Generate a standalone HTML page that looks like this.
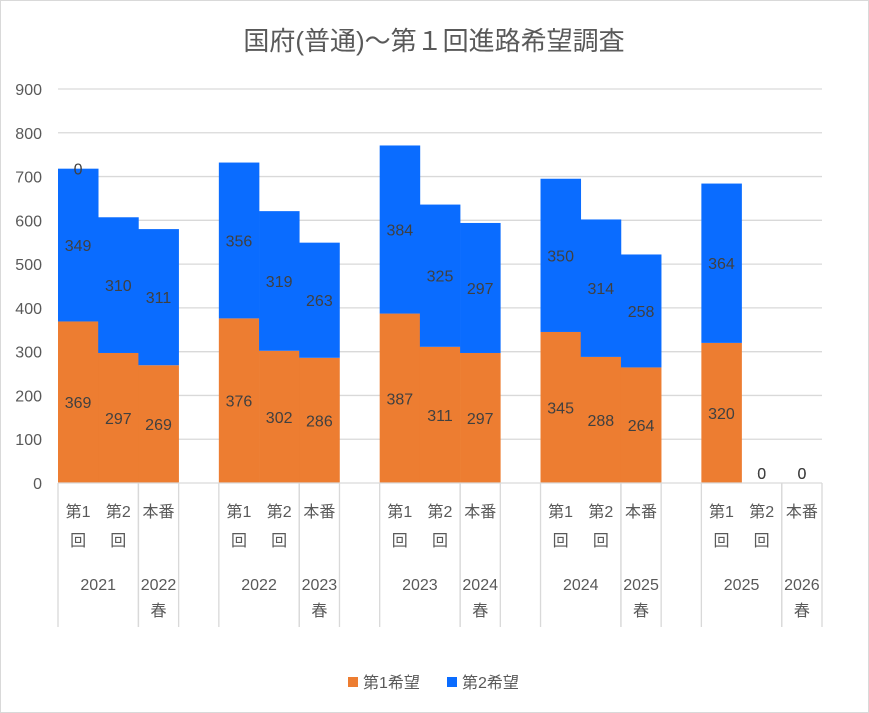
<!DOCTYPE html>
<html><head><meta charset="utf-8"><style>
body{margin:0;background:#fff;}
svg{display:block;font-family:"Liberation Sans","Noto Sans CJK JP",sans-serif;}
</style></head><body>
<svg id="c" width="869" height="713">
<rect x="0.5" y="0.5" width="868" height="712" fill="#fff" stroke="#d9d9d9"/>
<text x="434" y="50" text-anchor="middle" font-size="26" fill="#595959">国府(普通)～第１回進路希望調査</text>
<g id="grid"></g><g id="bars"></g><g id="axis"></g>
<g>
<rect x="348" y="677" width="10" height="10" fill="#ed7d31"/>
<text x="363" y="688" font-size="16" fill="#595959">第1希望</text>
<rect x="447" y="677" width="10" height="10" fill="#0a6cff"/>
<text x="462" y="688" font-size="16" fill="#595959">第2希望</text>
</g>
</svg>
<script>
const sub1=['第1','第2','本番','','第1','第2','本番','','第1','第2','本番','','第1','第2','本番','','第1','第2','本番'];
const sub2=['回','回','','','回','回','','','回','回','','','回','回','','','回','回',''];
const first=[369,297,269,null,376,302,286,null,387,311,297,null,345,288,264,null,320,0,0];
const second=[349,310,311,null,356,319,263,null,384,325,297,null,350,314,258,null,364,0,0];
const groups=[{l:'2021',s:0,n:2},{l:'2022春',s:2,n:1},{l:'2022',s:4,n:2},{l:'2023春',s:6,n:1},{l:'2023',s:8,n:2},{l:'2024春',s:10,n:1},{l:'2024',s:12,n:2},{l:'2025春',s:14,n:1},{l:'2025',s:16,n:2},{l:'2026春',s:18,n:1}];
const ticks=[0,100,200,300,400,500,600,700,800,900];
const NS='http://www.w3.org/2000/svg';
const X0=58,X1=822,Y0=483,Y9=89,sw=(X1-X0)/first.length;
const y=v=>Y0-(v/900)*(Y0-Y9);
const x=i=>X0+i*sw;
function mk(t,a,p,txt){const e=document.createElementNS(NS,t);for(const k in a)e.setAttribute(k,a[k]);if(txt!==undefined)e.textContent=txt;p.appendChild(e);return e;}
const G=document.getElementById('grid'),B=document.getElementById('bars'),A=document.getElementById('axis');
ticks.forEach(t=>{
 if(t>0){const l=mk('line',{x1:X0,x2:X1,y1:y(t),y2:y(t),stroke:'#d9d9d9','stroke-width':1.3},G);
 
 }
 const tx=mk('text',{x:42,y:y(t)+6,'text-anchor':'end','font-size':16,fill:'#595959'},G,String(t));
 
 
});
first.forEach((v,i)=>{
 if(v===null)return;
 const s=second[i];
 if(v>0){const r=mk('rect',{x:x(i),y:y(v),width:sw+0.3,height:Y0-y(v),fill:'#ed7d31'},B);
 
 }
 if(s>0){const r=mk('rect',{x:x(i),y:y(v+s),width:sw+0.3,height:y(v)-y(v+s),fill:'#0a6cff'},B);
 
 }
 const cx=x(i)+sw/2;
 const t1=mk('text',{x:cx,y:v>0?y(v/2)+6:Y0-4,'text-anchor':'middle','font-size':16,fill:'#404040'},B,String(v));
 
 
 const t2=mk('text',{x:cx,y:s>0?y(v+s/2)+6:Y0-4,'text-anchor':'middle','font-size':16,fill:'#404040'},B,String(s));
 
 
});
const z=mk('text',{x:x(0)+sw/2,y:y(first[0]+second[0])+6,'text-anchor':'middle','font-size':16,fill:'#404040'},B,'0');


mk('line',{x1:X0,x2:X1,y1:Y0,y2:Y0,stroke:'#d9d9d9','stroke-width':1.3},A);
groups.forEach(g=>{
 [g.s,g.s+g.n].forEach(k=>{const l=mk('line',{x1:x(k),x2:x(k),y1:Y0,y2:627,stroke:'#d9d9d9','stroke-width':1.3},A);
 
 });
 const cx=x(g.s)+g.n*sw/2;
 const yr=g.l.replace('春','');
 const t=mk('text',{x:cx,y:590,'text-anchor':'middle','font-size':16,fill:'#595959'},A,yr);
 
 
 if(g.l.indexOf('春')>=0){const t2=mk('text',{x:cx,y:616,'text-anchor':'middle','font-size':16,fill:'#595959'},A,'春');
 
 }
});
sub1.forEach((s,i)=>{
 if(!s)return;
 const cx=x(i)+sw/2;
 const t=mk('text',{x:cx,y:517,'text-anchor':'middle','font-size':16,fill:'#595959'},A,s);
 
 
 if(sub2[i]){const t2=mk('text',{x:cx,y:546,'text-anchor':'middle','font-size':16,fill:'#595959'},A,sub2[i]);
 
 }
});
</script>
</body></html>
